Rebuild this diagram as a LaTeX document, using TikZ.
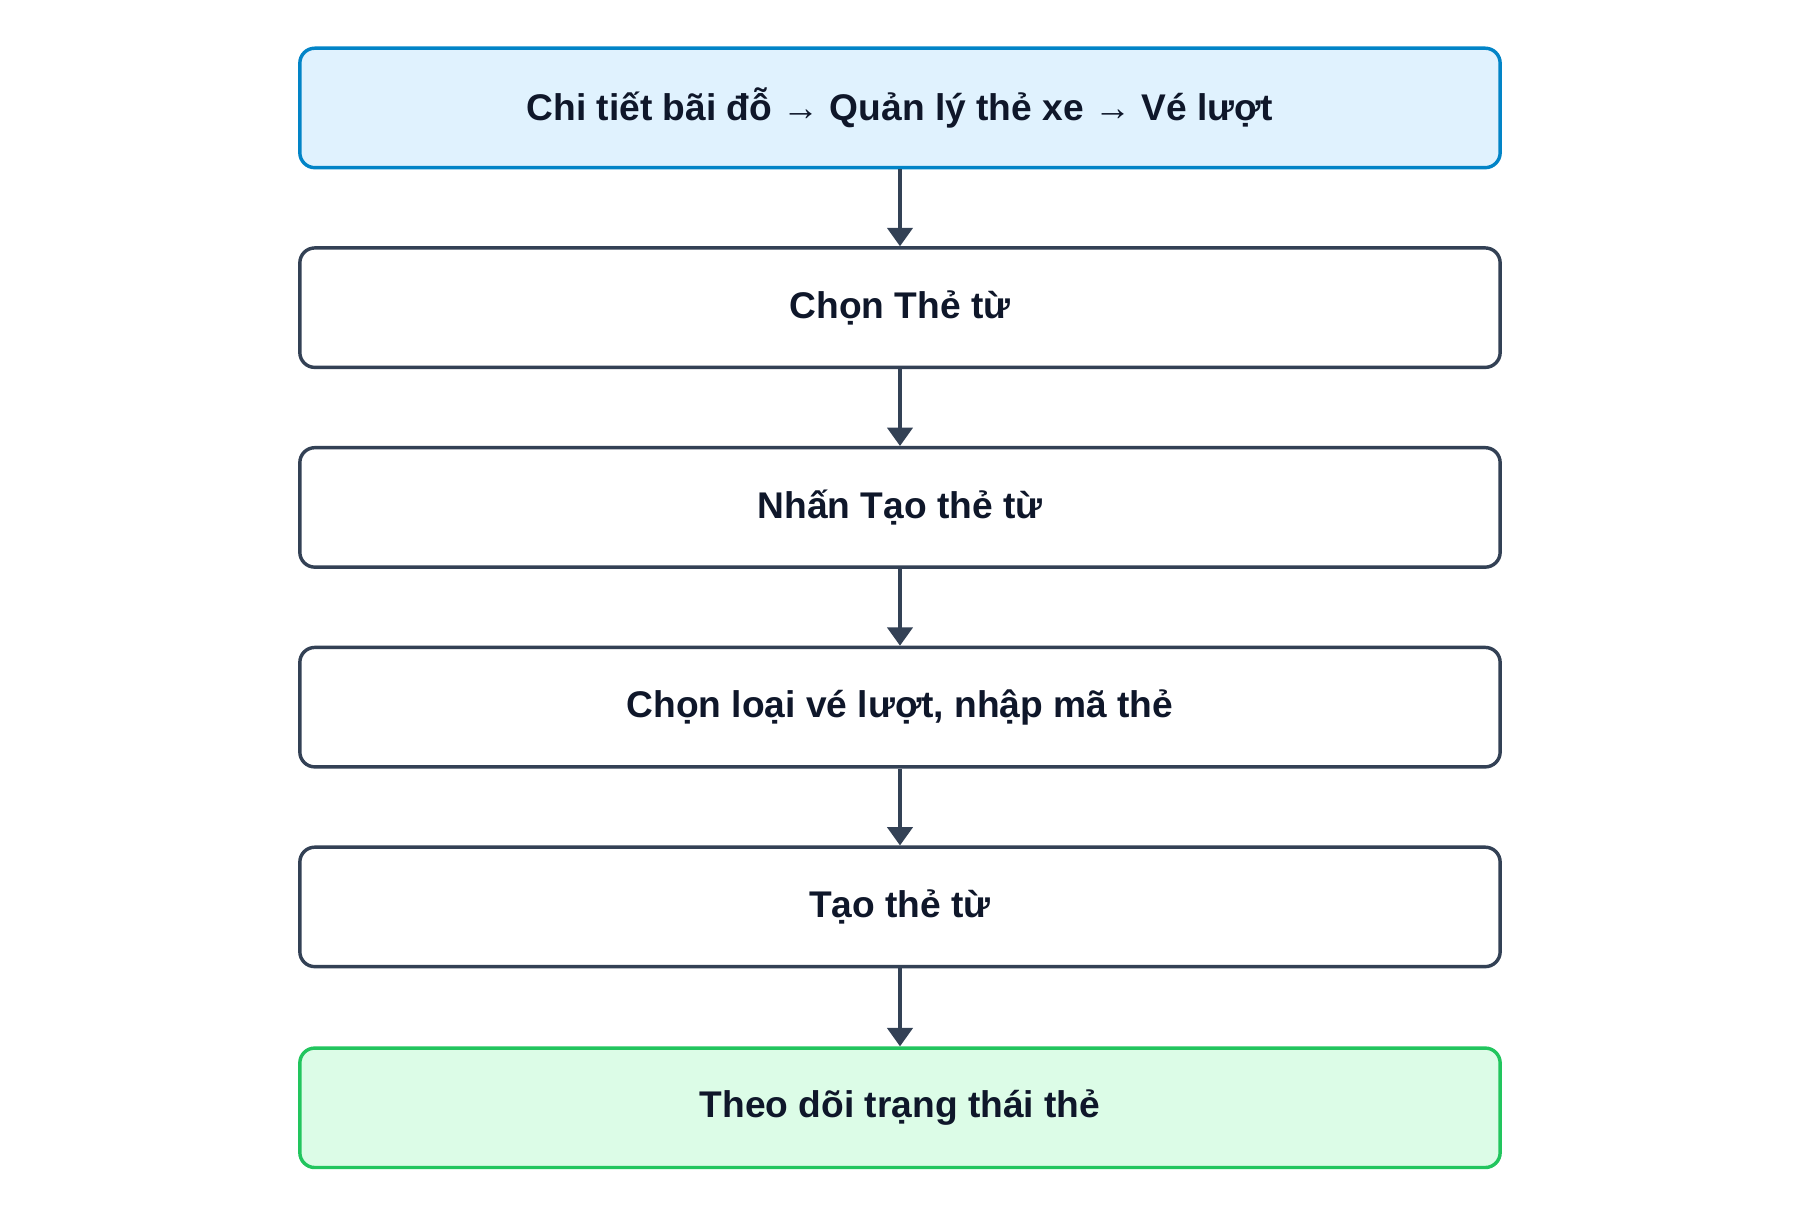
\documentclass[tikz,border=0pt]{standalone}
\usepackage{fontspec}
\setmainfont{Liberation Sans}
\usetikzlibrary{arrows.meta}
\definecolor{edge}{HTML}{334155}
\definecolor{txt}{HTML}{0F172A}
\definecolor{bfill}{HTML}{E0F2FE}
\definecolor{bdraw}{HTML}{0284C7}
\definecolor{gfill}{HTML}{DCFCE7}
\definecolor{gdraw}{HTML}{22C55E}
\begin{document}
\begin{tikzpicture}[x=0.01cm,y=-0.01cm,
  box/.style={draw=edge,fill=white,line width=0.85pt,rounded corners=0.13cm,minimum width=10.45cm,minimum height=1.04cm,inner sep=0pt,font=\fontsize{9.2pt}{11pt}\selectfont\bfseries,text=txt},
  start/.style={box,draw=bdraw,fill=bfill},
  stop/.style={box,draw=gdraw,fill=gfill},
  arr/.style={draw=edge,line width=0.85pt,-{Triangle[length=0.16cm,width=0.22cm]}}]
\useasboundingbox (0,0) rectangle (1568,1059);
\node[start] (a) at (784,94) {Chi tiết bãi đỗ → Quản lý thẻ xe → Vé lượt};
\node[box] (b) at (784,268) {Chọn Thẻ từ};
\node[box] (c) at (784,442) {Nhấn Tạo thẻ từ};
\node[box] (d) at (784,616) {Chọn loại vé lượt, nhập mã thẻ};
\node[box] (e) at (784,790) {Tạo thẻ từ};
\node[stop] (f) at (784,965) {Theo dõi trạng thái thẻ};
\foreach \p/\q in {a/b,b/c,c/d,d/e,e/f} \draw[arr] (\p) -- (\q);
\end{tikzpicture}
\end{document}
